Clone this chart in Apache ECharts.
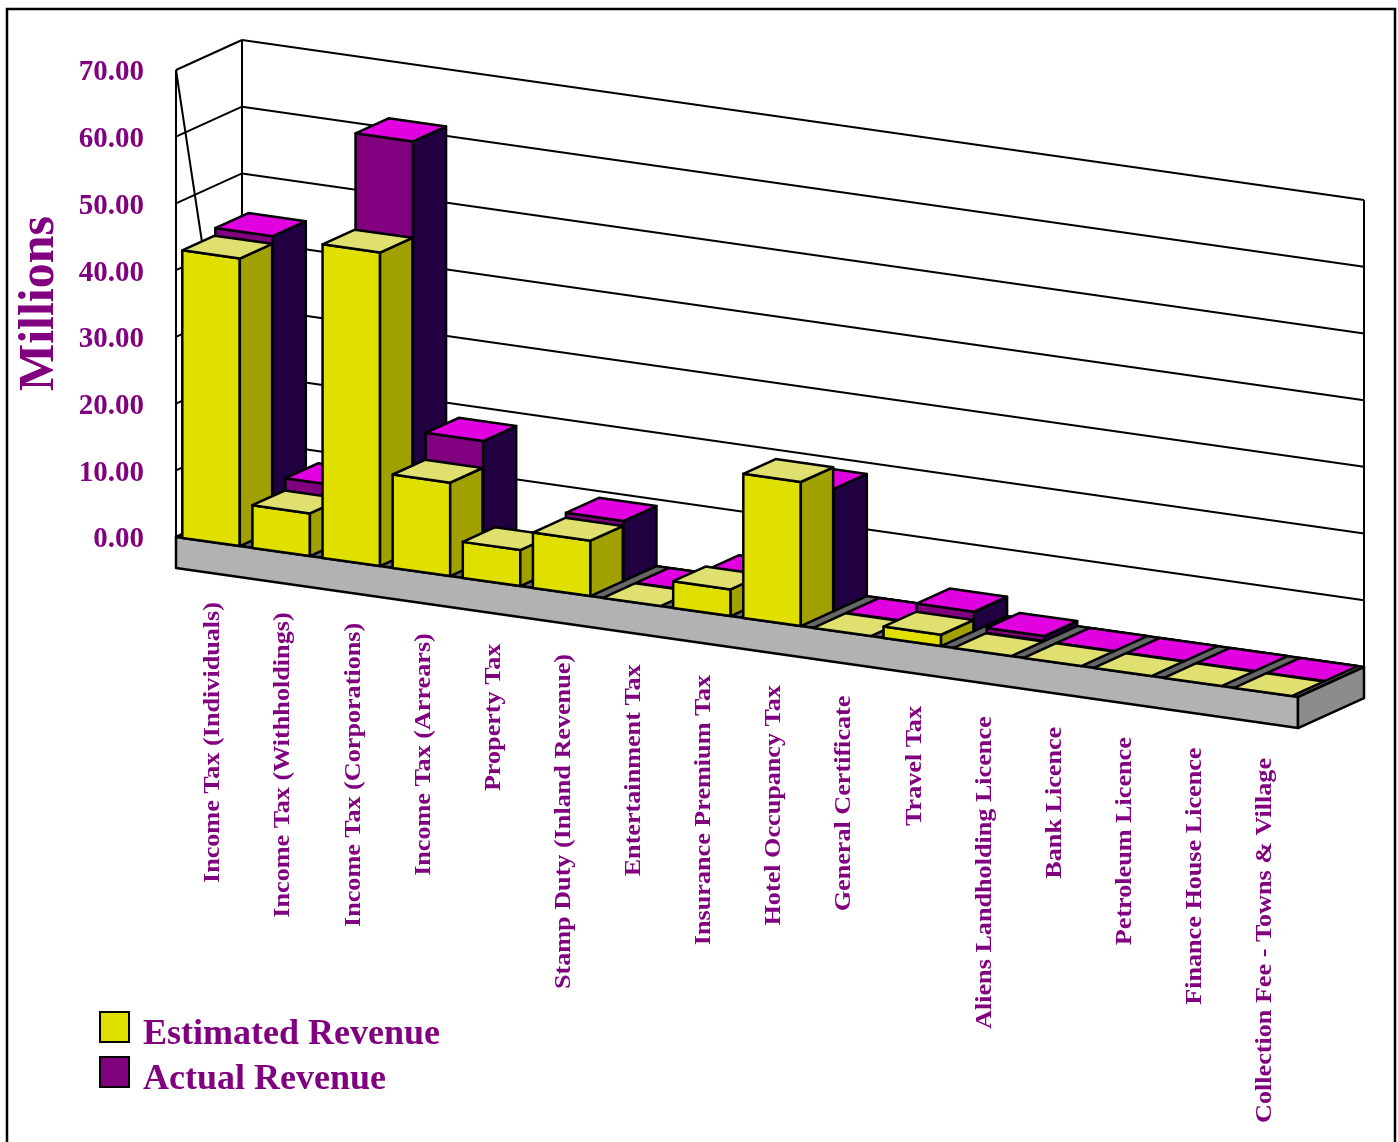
<!DOCTYPE html>
<html><head><meta charset="utf-8">
<style>html,body{margin:0;padding:0;background:#fff}#c{width:1398px;height:1142px}</style>
<script src="https://cdn.jsdelivr.net/npm/echarts@6/dist/echarts.min.js"></script>
</head><body><div id="c"></div>
<script>
const categories = ["Income Tax (Individuals)","Income Tax (Withholdings)","Income Tax (Corporations)","Income Tax (Arrears)","Property Tax","Stamp Duty (Inland Revenue)","Entertainment Tax","Insurance Premium Tax","Hotel Occupancy Tax","General Certificate","Travel Tax","Aliens Landholding Licence","Bank Licence","Petroleum Licence","Finance House Licence","Collection Fee - Towns & Village"];
const estimated = [43.1,6.4,47.0,14.0,5.4,8.3,0,4.0,21.6,0,1.7,0,0,0,0,0];
const actual = [44.2,8.2,61.4,18.0,1.5,9.0,0,3.4,18.3,0,2.9,0.75,0,0,0,0];
const yTicks = [0,10,20,30,40,50,60,70];

const FONT = '"Liberation Serif", serif';
const PURPLE = '#800080';
const DX = 66, DY = -30, SHEAR = 10;
const n = categories.length;
function projector(api){
  return (c, v, d) => {
    const p = api.coord([c, v]);
    return [p[0] + DX * d, p[1] + SHEAR * c + DY * d];
  };
}
const line = (a, b, w) => ({type:'line', shape:{x1:a[0],y1:a[1],x2:b[0],y2:b[1]}, style:{stroke:'#000', lineWidth:w||2}});
const poly = (pts, fill, w) => ({type:'polygon', shape:{points:pts}, style:{fill:fill, stroke:'#000', lineWidth:w||2.5, lineJoin:'round'}});

function barRender(d0, d1, cFront, cSide, cTop){
  return function(params, api){
    const P = projector(api);
    const c = api.value(0), v = api.value(1);
    const c0 = c + 0.09, c1 = c + 0.91;
    const kids = [];
    if (v > 0) {
      kids.push(poly([P(c0,0,d0),P(c1,0,d0),P(c1,v,d0),P(c0,v,d0)], cFront));
      kids.push(poly([P(c1,0,d0),P(c1,0,d1),P(c1,v,d1),P(c1,v,d0)], cSide));
    }
    kids.push(poly([P(c0,v,d0),P(c1,v,d0),P(c1,v,d1),P(c0,v,d1)], cTop));
    return {type:'group', children:kids};
  };
}

const option = {
  animation:false,
  backgroundColor:'#fff',
  graphic:[{type:'rect', shape:{x:7,y:9,width:1388,height:1300}, style:{fill:'none',stroke:'#000',lineWidth:2.5}, silent:true}],
  grid:{left:176, top:70, width:1122, height:467},
  xAxis:{type:'value', min:0, max:n, show:false},
  yAxis:{type:'value', min:0, max:70, interval:10,
    name:'Millions', nameLocation:'middle', nameGap:111, nameRotate:90,
    nameTextStyle:{fontFamily:FONT, fontWeight:'bold', fontSize:50, color:PURPLE},
    axisLine:{show:false}, axisTick:{show:false}, splitLine:{show:false},
    axisLabel:{margin:32, fontFamily:FONT, fontWeight:'bold', fontSize:29, color:PURPLE, verticalAlign:'top', lineHeight:6, formatter:v=>v.toFixed(2)}},
  legend:{orient:'vertical', left:94, top:996, itemWidth:29, itemHeight:30, itemGap:-7, icon:'rect',
    data:['Estimated Revenue','Actual Revenue'],
    formatter:name=>'{a|'+name+'}',
    textStyle:{rich:{a:{fontFamily:FONT, fontWeight:'bold', fontSize:36, lineHeight:30, color:PURPLE, padding:[16,0,0,9]}}}},
  series:[
    {type:'custom', name:'walls', silent:true, clip:false, data:yTicks.map(t=>[t]), encode:{y:0},
      renderItem(params, api){
        const P = projector(api);
        const t = api.value(0);
        const kids = [line(P(0,t,0),P(0,t,1)), line(P(0,t,1),P(n,t,1))];
        if (t === 70) kids.push(line(P(0,0,0),P(0,70,0)), line(P(0,0,1),P(0,70,1)), line(P(n,0,1),P(n,70,1)), line(P(0,70,0),P(0,0,1)));
        return {type:'group', children:kids};
      }},
    {type:'custom', name:'floor', silent:true, clip:false, data:[[0]], encode:{y:0},
      renderItem(params, api){
        const P = projector(api);
        const t = -4.65;
        return {type:'group', children:[
          poly([P(0,0,0),P(n,0,0),P(n,0,1),P(0,0,1)],'#666666'),
          poly([P(0,0,0),P(n,0,0),P(n,t,0),P(0,t,0)],'#b2b2b2'),
          poly([P(n,0,0),P(n,0,1),P(n,t,1),P(n,t,0)],'#8c8c8c')
        ]};
      }},
    {type:'custom', name:'Actual Revenue', clip:false, silent:true, itemStyle:{color:PURPLE, borderColor:'#000', borderWidth:2.5},
      data:actual.map((v,i)=>[i,v]), encode:{x:0,y:1},
      renderItem:barRender(0.5,1,'#800080','#200040','#e000e0')},
    {type:'custom', name:'Estimated Revenue', clip:false, silent:true, itemStyle:{color:'#e0e000', borderColor:'#000', borderWidth:2.5},
      data:estimated.map((v,i)=>[i,v]), encode:{x:0,y:1},
      renderItem:barRender(0,0.49,'#e0e000','#a0a000','#e0e070')},
    {type:'custom', name:'labels', silent:true, clip:false, data:categories.map((c,i)=>[i]), encode:{x:0},
      renderItem(params, api){
        const P = projector(api);
        const i = api.value(0);
        const p = P(i+0.5,0,0);
        return {type:'text', x:p[0]+2, y:p[1]+60+i*0.4, rotation:Math.PI/2, scaleX:1.09,
          style:{text:categories[i], align:'right', verticalAlign:'middle', fill:PURPLE,
            font:'bold 24px '+FONT}};
      }}
  ]
};
const chart = echarts.init(document.getElementById('c'), null, {renderer:'canvas'});
chart.setOption(option);
</script></body></html>
